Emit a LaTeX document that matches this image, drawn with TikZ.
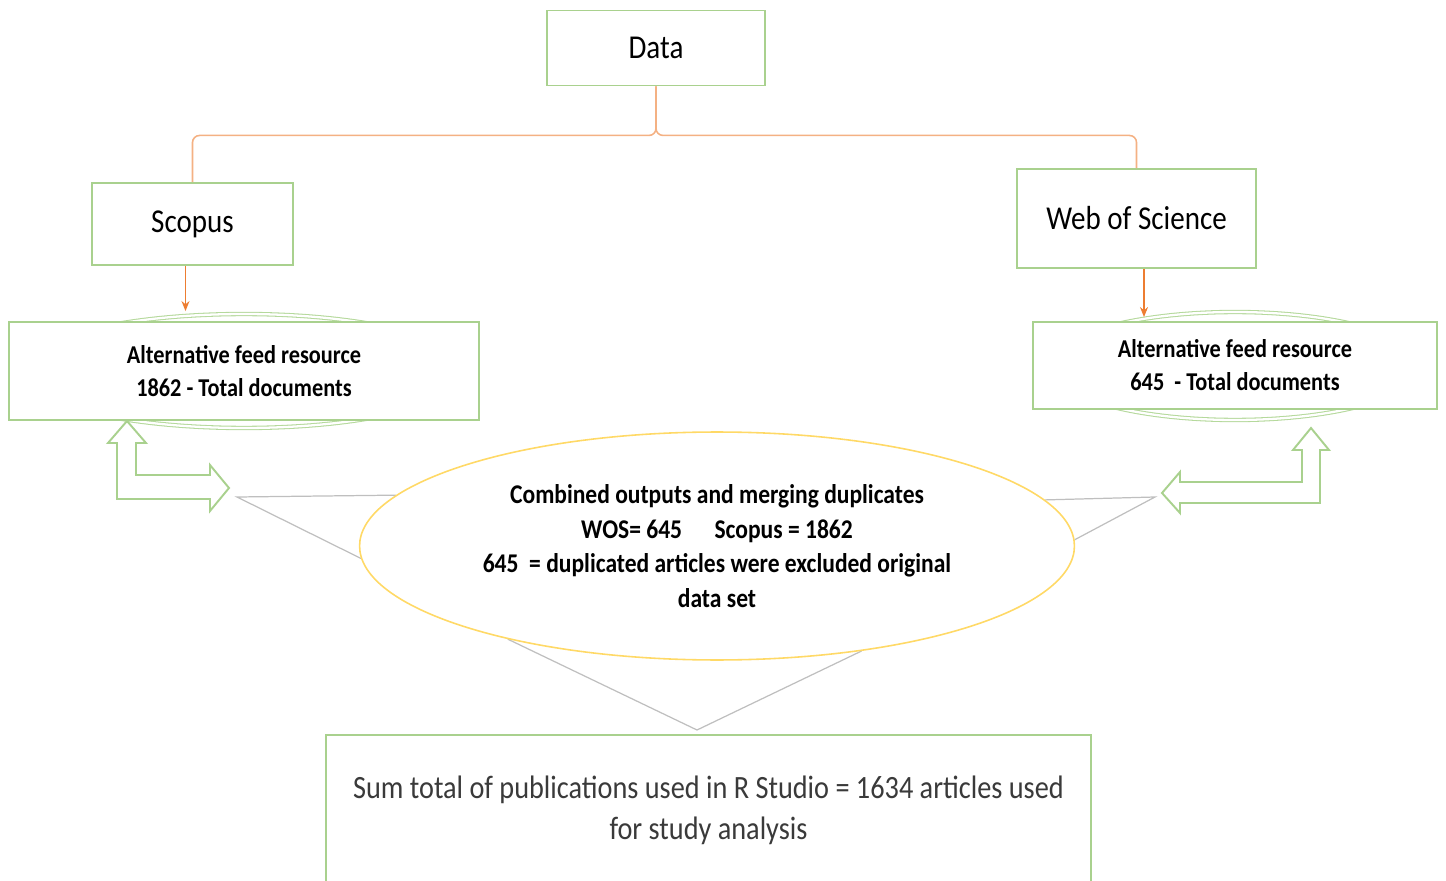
\documentclass[tikz,border=0pt]{standalone}
\usepackage{fontspec}
\setmainfont{Carlito}[FakeStretch=0.87]
\usepackage{xcolor}
\usepackage{tikz}
\usetikzlibrary{positioning, arrows.meta, shapes.geometric, calc, backgrounds}

\definecolor{boxgreen}{HTML}{A9D18E}
\definecolor{halogreen}{HTML}{B5D99C}
\definecolor{branchorange}{HTML}{F4B183}
\definecolor{feedorange}{HTML}{ED7D31}
\definecolor{mergeyellow}{HTML}{FFD966}
\definecolor{calloutgray}{HTML}{BFBFBF}
\definecolor{sumtext}{HTML}{3A3A3A}

\begin{document}
\begin{tikzpicture}[
    x=0.02cm, y=-0.02cm,
    srcbox/.style={rectangle, draw=boxgreen, line width=1.1pt, fill=white, align=center, inner sep=2pt},
    titlefont/.style={font=\fontsize{19}{23}\selectfont},
    feedfont/.style={font=\bfseries\fontsize{14.6}{18.7}\selectfont},
    halo/.style={draw=halogreen, double=white, double distance=1.3pt, line width=0.6pt},
    branch/.style={draw=branchorange, line width=0.9pt, rounded corners=4pt},
    feed/.style={-{Stealth[length=2mm, width=1.6mm]}, draw=feedorange, line width=0.7pt},
    callout/.style={draw=calloutgray, line width=0.7pt},
    hollow/.style={draw=boxgreen, line width=1.1pt, line join=miter},
]
\clip (0,0) rectangle (1446,881);

\node[srcbox, titlefont, minimum width=4.36cm, minimum height=1.5cm] (data) at (656,48) {Data};
\node[srcbox, titlefont, minimum width=4.02cm, minimum height=1.64cm] (scopus) at (192.5,224) {Scopus};
\node[srcbox, titlefont, minimum width=4.78cm, minimum height=1.98cm] (wos) at (1136.5,218.5) {Web of Science};

\node[srcbox, feedfont, minimum width=9.4cm, minimum height=1.96cm] (afrL) at (244,371) {Alternative feed resource\\1862 - Total documents};
\node[srcbox, feedfont, minimum width=8.08cm, minimum height=1.74cm] (afrR) at (1235,365.5) {Alternative feed resource\\645\ \ - Total documents};

\node[ellipse, draw=mergeyellow, line width=0.9pt, fill=white, minimum width=14.3cm, minimum height=4.56cm, align=center, inner sep=0pt, font=\bfseries\fontsize{15.4}{19.8}\selectfont] (merge) at (717,546) {Combined outputs and merging duplicates\\WOS= 645\quad\ Scopus = 1862\\645\ \ = duplicated articles were excluded original\\data set};

\node[srcbox, minimum width=15.3cm, minimum height=3cm, text=sumtext, font=\fontsize{18.5}{23.2}\selectfont] (sum) at (708.5,810) {Sum total of publications used in R Studio = 1634 articles used\\for study analysis};

\coordinate (tipL) at (237,497);
\coordinate (tipR) at (1155,497);
\coordinate (tipB) at (697,730);

\begin{scope}[on background layer]
\draw[halo] (afrL.center) ellipse [x radius=4.5cm, y radius=1.14cm];
\draw[halo] ([yshift=-0.01cm]afrR.center) ellipse [x radius=3.74cm, y radius=1.08cm];
\draw[callout] (merge.171.5) -- (tipL) -- (merge.182);
\draw[callout] (merge.8.5) -- (tipR) -- (merge.1.5);
\draw[callout] (merge.204.5) -- (tipB) -- (merge.324);
\end{scope}

\draw[branch] (data.south) -- ++(0,49) -| (scopus.north);
\draw[branch] (data.south) -- ++(0,49) -| (wos.north);

\draw[feed, shorten >=0.2cm] ([xshift=-0.14cm]scopus.south) -- ([xshift=-0.14cm]scopus.south |- afrL.north);
\draw[feed, shorten >=0.08cm] ([xshift=0.15cm]wos.south) -- ([xshift=0.15cm]wos.south |- afrR.north);

\draw[hollow] (127,421) -- (146,443) -- (136,443) -- (136,475) -- (210,475) -- (210,465) -- (229,488)
  -- (210,511) -- (210,499) -- (117,499) -- (117,443) -- (108,443) -- cycle;
\draw[hollow] (1311,428) -- (1329,450) -- (1320,450) -- (1320,503) -- (1180,503) -- (1180,513) -- (1162,493)
  -- (1180,472) -- (1180,482) -- (1302,482) -- (1302,450) -- (1293,450) -- cycle;

\end{tikzpicture}
\end{document}
